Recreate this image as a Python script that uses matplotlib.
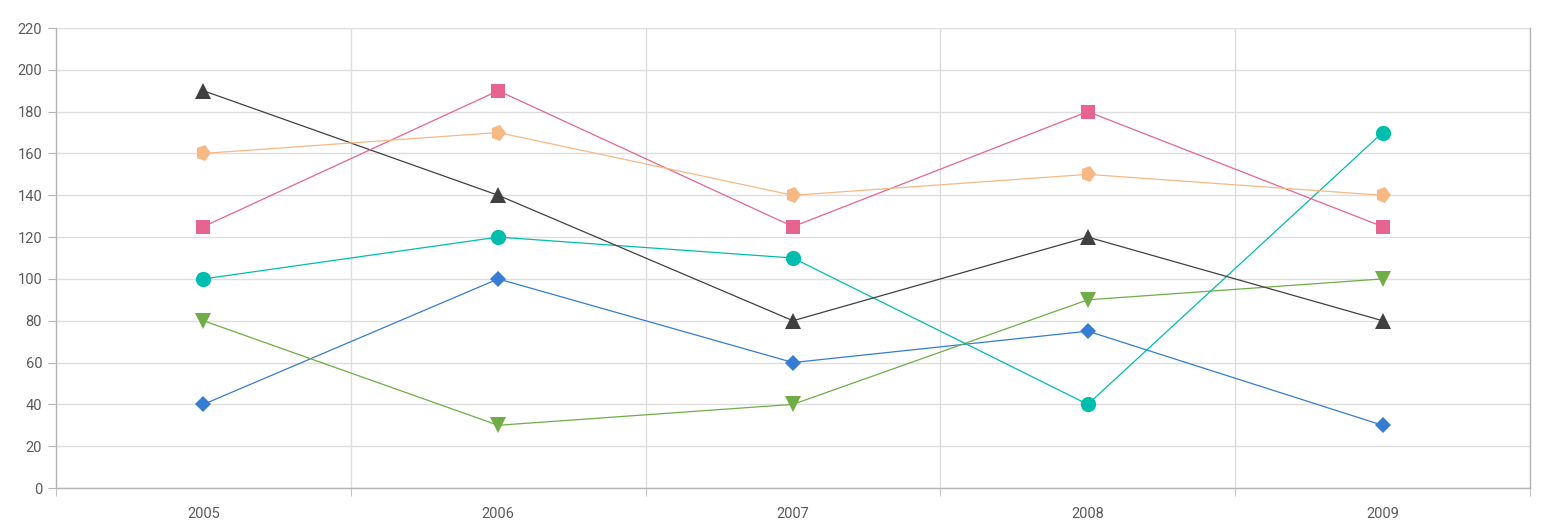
import matplotlib
matplotlib.use("Agg")
import matplotlib.pyplot as plt
from matplotlib.markers import MarkerStyle
from matplotlib.transforms import Affine2D

plt.rcParams['font.family'] = ['Roboto', 'DejaVu Sans']

years = ["2005", "2006", "2007", "2008", "2009"]

blue = [40, 100, 60, 75, 30]
green = [80, 30, 40, 90, 100]
teal = [100, 120, 110, 40, 170]
dark = [190, 140, 80, 120, 80]
pink = [125, 190, 125, 180, 125]
orange = [160, 170, 140, 150, 140]

pentagon = MarkerStyle('p', transform=Affine2D().rotate_deg(-90))

series = [
    (blue, "#357cd2", "D", 8.5),
    (green, "#70ad47", "v", 11),
    (teal, "#00bdae", "o", 11),
    (dark, "#404041", "^", 11),
    (pink, "#e56590", "s", 10),
    (orange, "#f8b883", pentagon, 11.5),
]

W, H = 1553, 527
fig = plt.figure(figsize=(W / 100, H / 100), dpi=100)
ax = fig.add_axes([56 / W, (H - 488) / H, (1530 - 56) / W, (488 - 28) / H])

x = list(range(len(years)))
for vals, col, mk, ms in series:
    ax.plot(x, vals, color=col, lw=0.9, marker=mk, markersize=ms,
            markeredgewidth=0, zorder=3)

ax.set_xlim(-0.5, len(years) - 0.5)
ax.set_ylim(0, 220)
ax.set_yticks(range(0, 221, 20))
ax.set_xticks(x)
ax.set_xticklabels(years)
ax.set_xticks([i - 0.5 for i in range(len(years) + 1)], minor=True)

ax.grid(axis='y', color="#dedede", lw=1)
ax.grid(axis='x', which='minor', color="#dedede", lw=1)
ax.set_axisbelow(True)

for side in ['left', 'bottom', 'right']:
    ax.spines[side].set_color("#b5b5b5")
    ax.spines[side].set_linewidth(1)
ax.spines['top'].set_visible(False)

ax.tick_params(axis='x', which='major', length=0, pad=14, labelsize=10.5, labelcolor="#5a5a5a")
ax.tick_params(axis='x', which='minor', length=6, color="#b5b5b5")
ax.tick_params(axis='y', length=6, color="#b5b5b5", pad=4, labelsize=10.5, labelcolor="#5a5a5a")

fig.savefig("out.png", dpi=100)
